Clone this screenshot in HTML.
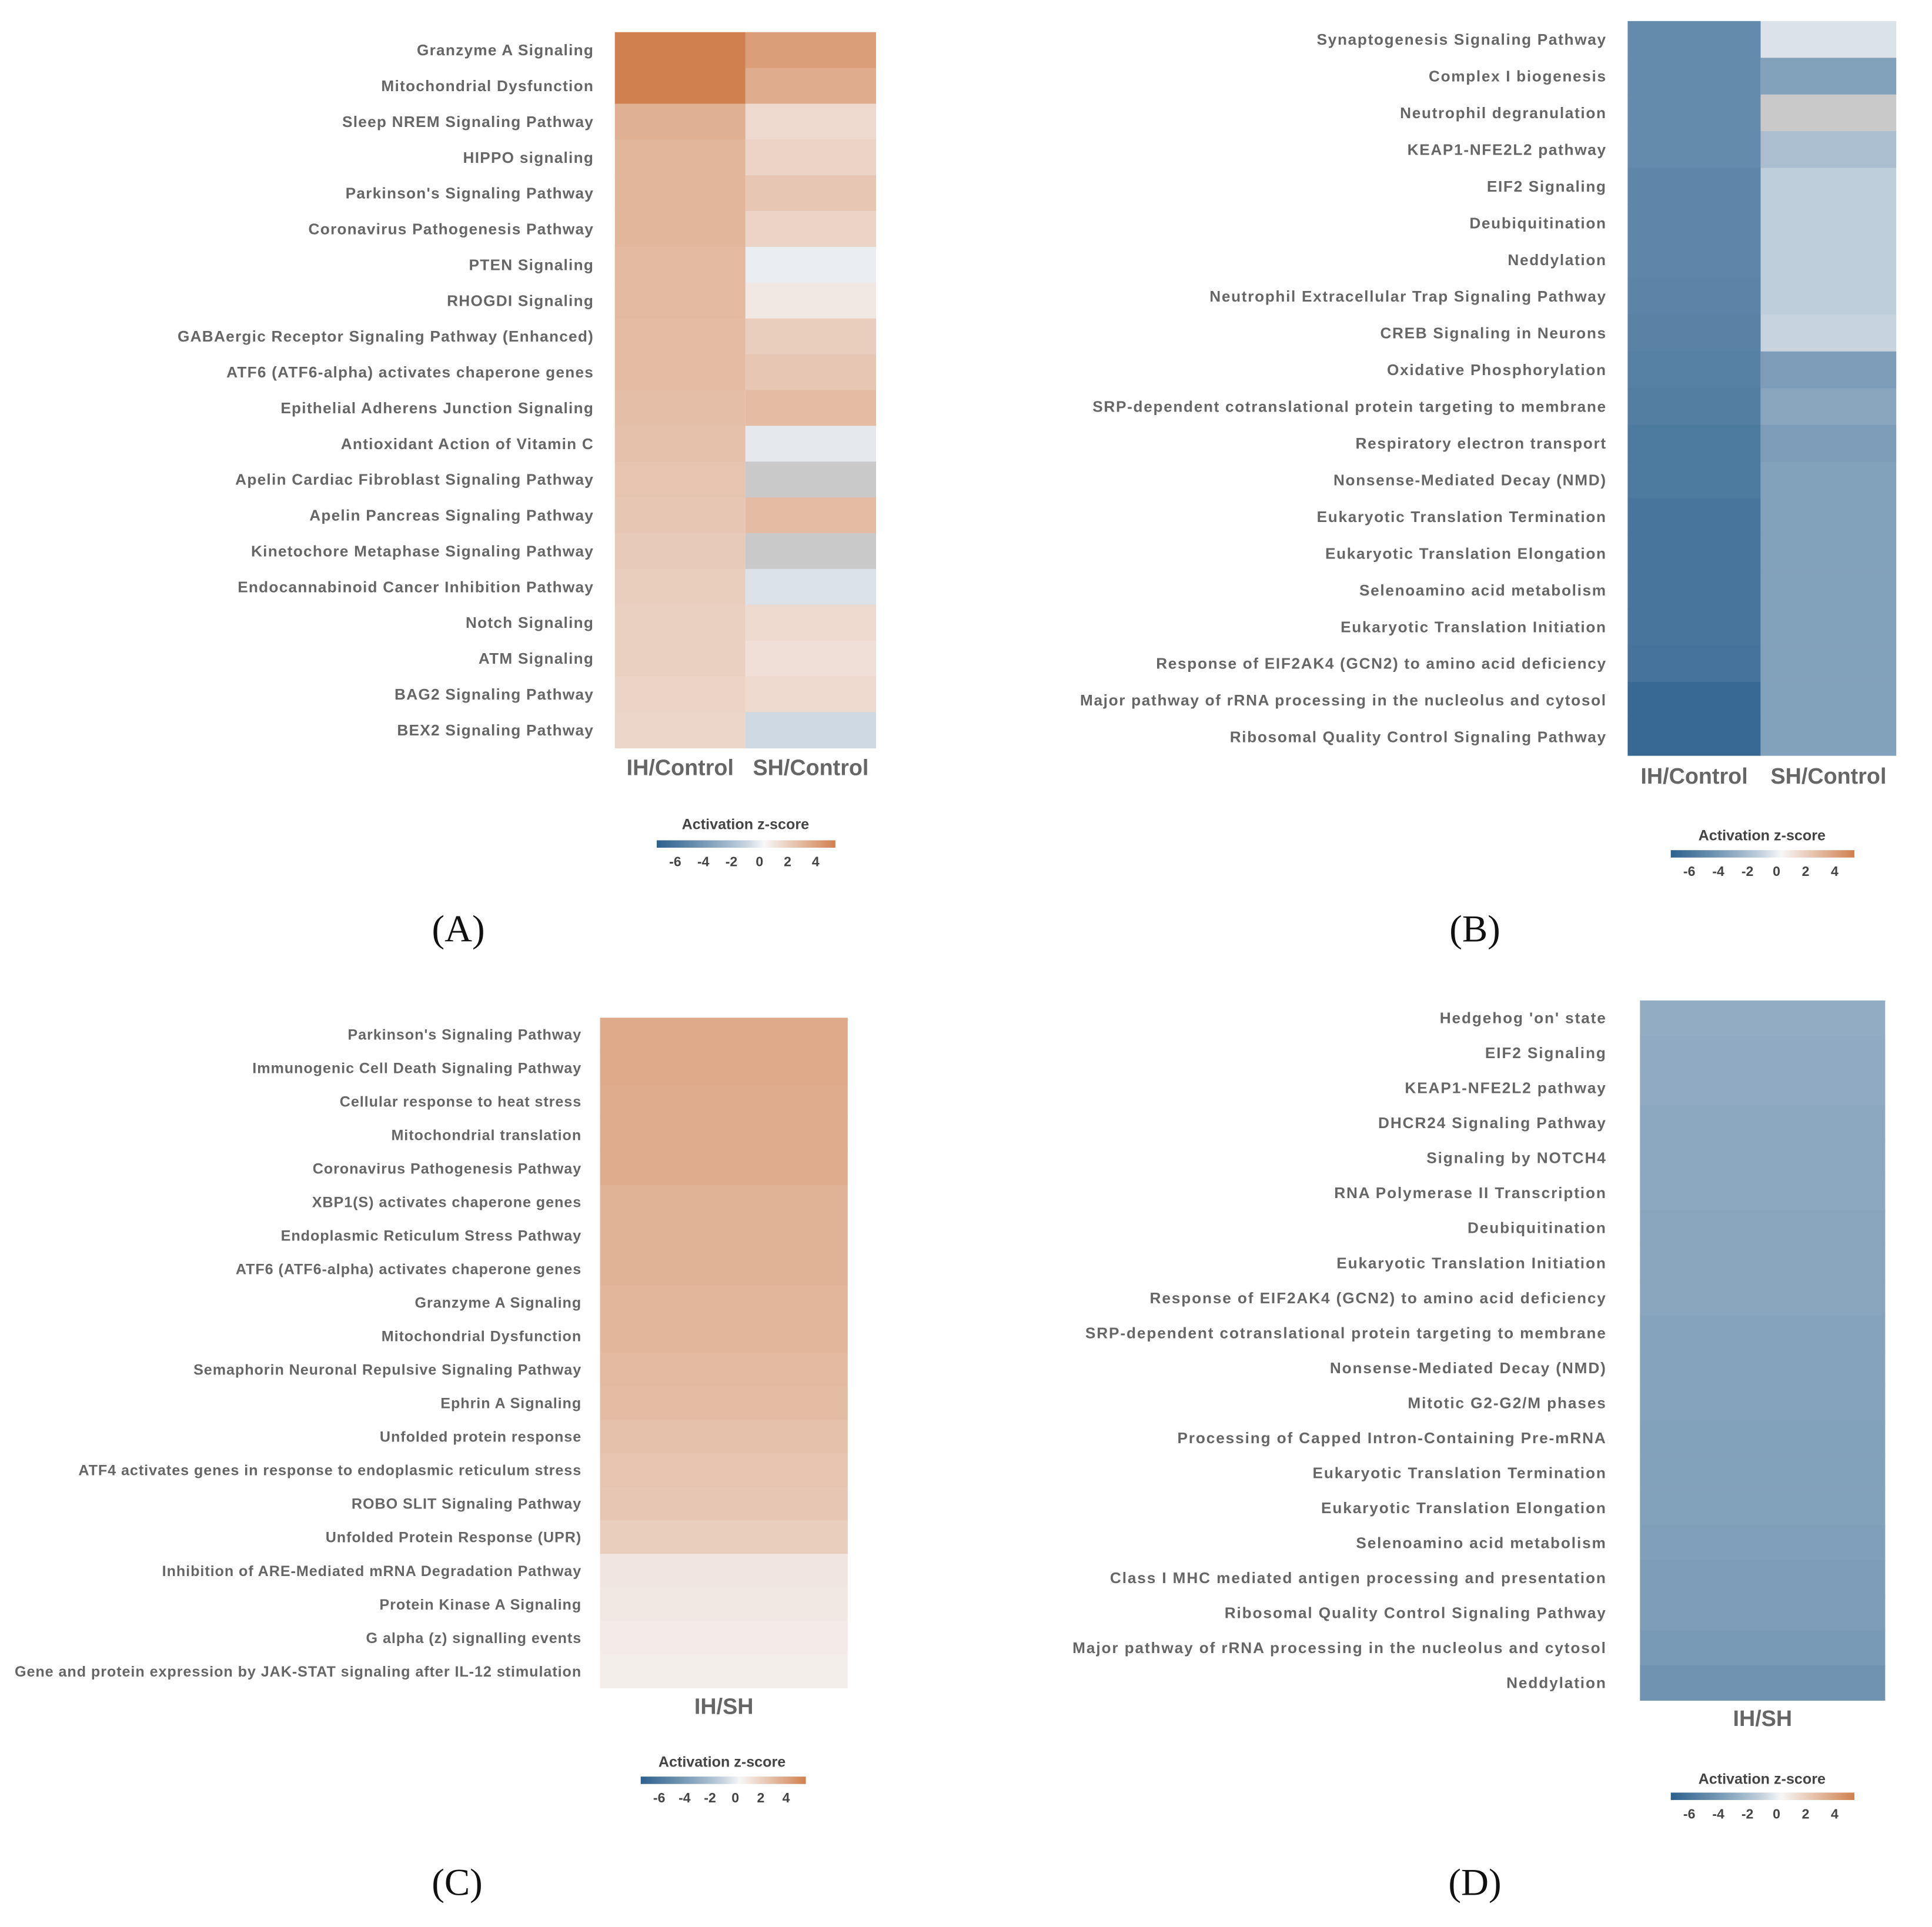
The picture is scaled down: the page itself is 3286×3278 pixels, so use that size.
<!DOCTYPE html>
<html><head><meta charset="utf-8"><style>
html,body{margin:0;padding:0;background:#fff}
svg{display:block}
text{font-family:"Liberation Sans",sans-serif}
</style></head><body>
<svg id="root" width="3286" height="3278" viewBox="0 0 1568 1564" xmlns="http://www.w3.org/2000/svg"></svg>
<script>
// ---------- data ----------
const aLabels=["Granzyme A Signaling","Mitochondrial Dysfunction","Sleep NREM Signaling Pathway","HIPPO signaling","Parkinson's Signaling Pathway","Coronavirus Pathogenesis Pathway","PTEN Signaling","RHOGDI Signaling","GABAergic Receptor Signaling Pathway (Enhanced)","ATF6 (ATF6-alpha) activates chaperone genes","Epithelial Adherens Junction Signaling","Antioxidant Action of Vitamin C","Apelin Cardiac Fibroblast Signaling Pathway","Apelin Pancreas Signaling Pathway","Kinetochore Metaphase Signaling Pathway","Endocannabinoid Cancer Inhibition Pathway","Notch Signaling","ATM Signaling","BAG2 Signaling Pathway","BEX2 Signaling Pathway"];
const aIH=[4.0,4.0,2.4,2.2,2.2,2.2,2.1,2.1,2.0,2.0,1.9,1.8,1.7,1.6,1.5,1.4,1.3,1.3,1.2,1.1];
const aSH=[3.0,2.5,1.0,1.2,1.6,1.2,-0.2,0.5,1.4,1.6,2.0,-0.3,null,2.0,null,-0.5,1.0,0.8,1.0,-0.8];
const bLabels=["Synaptogenesis Signaling Pathway","Complex I biogenesis","Neutrophil degranulation","KEAP1-NFE2L2 pathway","EIF2 Signaling","Deubiquitination","Neddylation","Neutrophil Extracellular Trap Signaling Pathway","CREB Signaling in Neurons","Oxidative Phosphorylation","SRP-dependent cotranslational protein targeting to membrane","Respiratory electron transport","Nonsense-Mediated Decay (NMD)","Eukaryotic Translation Termination","Eukaryotic Translation Elongation","Selenoamino acid metabolism","Eukaryotic Translation Initiation","Response of EIF2AK4 (GCN2) to amino acid deficiency","Major pathway of rRNA processing in the nucleolus and cytosol","Ribosomal Quality Control Signaling Pathway"];
const bIH=[-4.0,-4.0,-4.0,-4.0,-4.2,-4.2,-4.2,-4.3,-4.4,-4.5,-4.6,-4.8,-4.8,-5.0,-5.0,-5.0,-5.0,-5.1,-5.6,-5.6];
const bSH=[-0.5,-3.0,null,-1.8,-1.2,-1.2,-1.2,-1.2,-1.0,-3.2,-2.8,-3.2,-3.0,-3.0,-3.0,-3.0,-3.0,-3.0,-3.0,-3.0];
const cLabels=["Parkinson's Signaling Pathway","Immunogenic Cell Death Signaling Pathway","Cellular response to heat stress","Mitochondrial translation","Coronavirus Pathogenesis Pathway","XBP1(S) activates chaperone genes","Endoplasmic Reticulum Stress Pathway","ATF6 (ATF6-alpha) activates chaperone genes","Granzyme A Signaling","Mitochondrial Dysfunction","Semaphorin Neuronal Repulsive Signaling Pathway","Ephrin A Signaling","Unfolded protein response","ATF4 activates genes in response to endoplasmic reticulum stress","ROBO SLIT Signaling Pathway","Unfolded Protein Response (UPR)","Inhibition of ARE-Mediated mRNA Degradation Pathway","Protein Kinase A Signaling","G alpha (z) signalling events","Gene and protein expression by JAK-STAT signaling after IL-12 stimulation"];
const cIH=[2.6,2.6,2.5,2.5,2.5,2.3,2.3,2.3,2.2,2.2,2.1,2.0,1.8,1.7,1.6,1.4,0.6,0.5,0.4,0.3];
const dLabels=["Hedgehog 'on' state","EIF2 Signaling","KEAP1-NFE2L2 pathway","DHCR24 Signaling Pathway","Signaling by NOTCH4","RNA Polymerase II Transcription","Deubiquitination","Eukaryotic Translation Initiation","Response of EIF2AK4 (GCN2) to amino acid deficiency","SRP-dependent cotranslational protein targeting to membrane","Nonsense-Mediated Decay (NMD)","Mitotic G2-G2/M phases","Processing of Capped Intron-Containing Pre-mRNA","Eukaryotic Translation Termination","Eukaryotic Translation Elongation","Selenoamino acid metabolism","Class I MHC mediated antigen processing and presentation","Ribosomal Quality Control Signaling Pathway","Major pathway of rRNA processing in the nucleolus and cytosol","Neddylation"];
const dIH=[-2.5,-2.6,-2.6,-2.7,-2.7,-2.7,-2.8,-2.8,-2.8,-2.9,-2.9,-2.9,-3.0,-3.0,-3.0,-3.1,-3.2,-3.2,-3.3,-3.6];
const legendTicks=[-6,-4,-2,0,2,4];

// ---------- helpers ----------
const NS="http://www.w3.org/2000/svg";
const root=document.getElementById('root');
function mk(tag,attrs,parent){const e=document.createElementNS(NS,tag);for(const k in attrs)e.setAttribute(k,attrs[k]);(parent||root).appendChild(e);return e;}
function mix(a,b,t){return a.map((v,i)=>Math.round(v+(b[i]-v)*t));}
const WHITE=[247,247,248],BLUE=[44,97,142],ORANGE=[208,128,78];
function color(v){
  if(v===null)return "#c9c9c9";
  let c;
  if(v<0)c=mix(WHITE,BLUE,Math.pow(Math.min(1,-v/6),0.8));else c=mix(WHITE,ORANGE,Math.min(1,v/4));
  return "rgb("+c.join(",")+")";
}
function panel(p){
  const g=mk('g',{});
  
  
  const n=p.labels.length,rh=(p.bottom-p.top)/n;
  p.labels.forEach((lab,i)=>{
    const t=mk('text',{x:p.labelX,y:p.top+rh*(i+0.5)+4.3,'text-anchor':'end','font-size':p.fs||12.5,'font-weight':'bold',fill:'#666','letter-spacing':p.ls||0},g);
    t.textContent=lab;
    
    
  });
  p.cols.forEach((col,ci)=>{
    col.values.forEach((v,i)=>{
      const r=mk('rect',{x:col.x0,y:p.top+rh*i,width:col.x1-col.x0,height:rh+0.4,fill:color(v)},g);
      
      
    });
    const t=mk('text',{x:(col.x0+col.x1)/2,y:p.colLabelY,'text-anchor':'middle','font-size':18,'font-weight':'bold',fill:'#666'},g);
    t.textContent=col.name;
    
    
  });
  const L=p.legend;
  const gid='grad'+p.id;
  const defs=mk('defs',{},g);
  const lg=mk('linearGradient',{id:gid,x1:'0',x2:'1',y1:'0',y2:'0'},defs);
  for(let k=0;k<=10;k++){const v=-6+k;mk('stop',{offset:(k/10),'stop-color':color(v)},lg);}
  const tt=mk('text',{x:L.cx,y:L.ty,'text-anchor':'middle','font-size':12,'font-weight':'bold',fill:'#444'},g);
  tt.textContent="Activation z-score";
  
  
  const bar=mk('rect',{x:L.x0,y:L.by-3,width:L.x1-L.x0,height:6,fill:'url(#'+gid+')'},g);
  
  
  const tx0=L.x0+15,tx1=L.x1-16;
  legendTicks.forEach(v=>{
    const x=tx0+(v+6)/10*(tx1-tx0);
    const t=mk('text',{x:x,y:L.by+18,'text-anchor':'middle','font-size':11,'font-weight':'bold',fill:'#444'},g);
    t.textContent=v;
    
    
  });
  const pl=mk('text',{x:p.letterX,y:p.letterY,'text-anchor':'middle','font-size':31,fill:'#111'},g);
  pl.setAttribute('style','font-family:"Liberation Serif",serif');
  pl.textContent=p.letter;
  
  
}
panel({id:'A',name:'panel-a',labels:aLabels,labelX:482,top:26,bottom:607,colLabelY:629,ls:0.6,
  cols:[{name:'IH/Control',x0:499,x1:605,values:aIH},{name:'SH/Control',x0:605,x1:711,values:aSH}],
  legend:{cx:605,ty:673,x0:533,x1:678,by:685},letter:'(A)',letterX:372,letterY:764});
panel({id:'B',name:'panel-b',labels:bLabels,labelX:1304,top:17,bottom:613,colLabelY:636,ls:0.8,
  cols:[{name:'IH/Control',x0:1321,x1:1429,values:bIH},{name:'SH/Control',x0:1429,x1:1539,values:bSH}],
  legend:{cx:1430,ty:682,x0:1356,x1:1505,by:693},letter:'(B)',letterX:1197,letterY:764});
panel({id:'C',name:'panel-c',labels:cLabels,labelX:472,top:826,bottom:1370,colLabelY:1391,fs:12,ls:0.45,
  cols:[{name:'IH/SH',x0:487,x1:688,values:cIH}],
  legend:{cx:586,ty:1434,x0:520,x1:654,by:1445},letter:'(C)',letterX:371,letterY:1538});
panel({id:'D',name:'panel-d',labels:dLabels,labelX:1304,top:812,bottom:1380,colLabelY:1401,ls:0.9,
  cols:[{name:'IH/SH',x0:1331,x1:1530,values:dIH}],
  legend:{cx:1430,ty:1448,x0:1356,x1:1505,by:1458},letter:'(D)',letterX:1197,letterY:1538});
</script>
</body></html>
